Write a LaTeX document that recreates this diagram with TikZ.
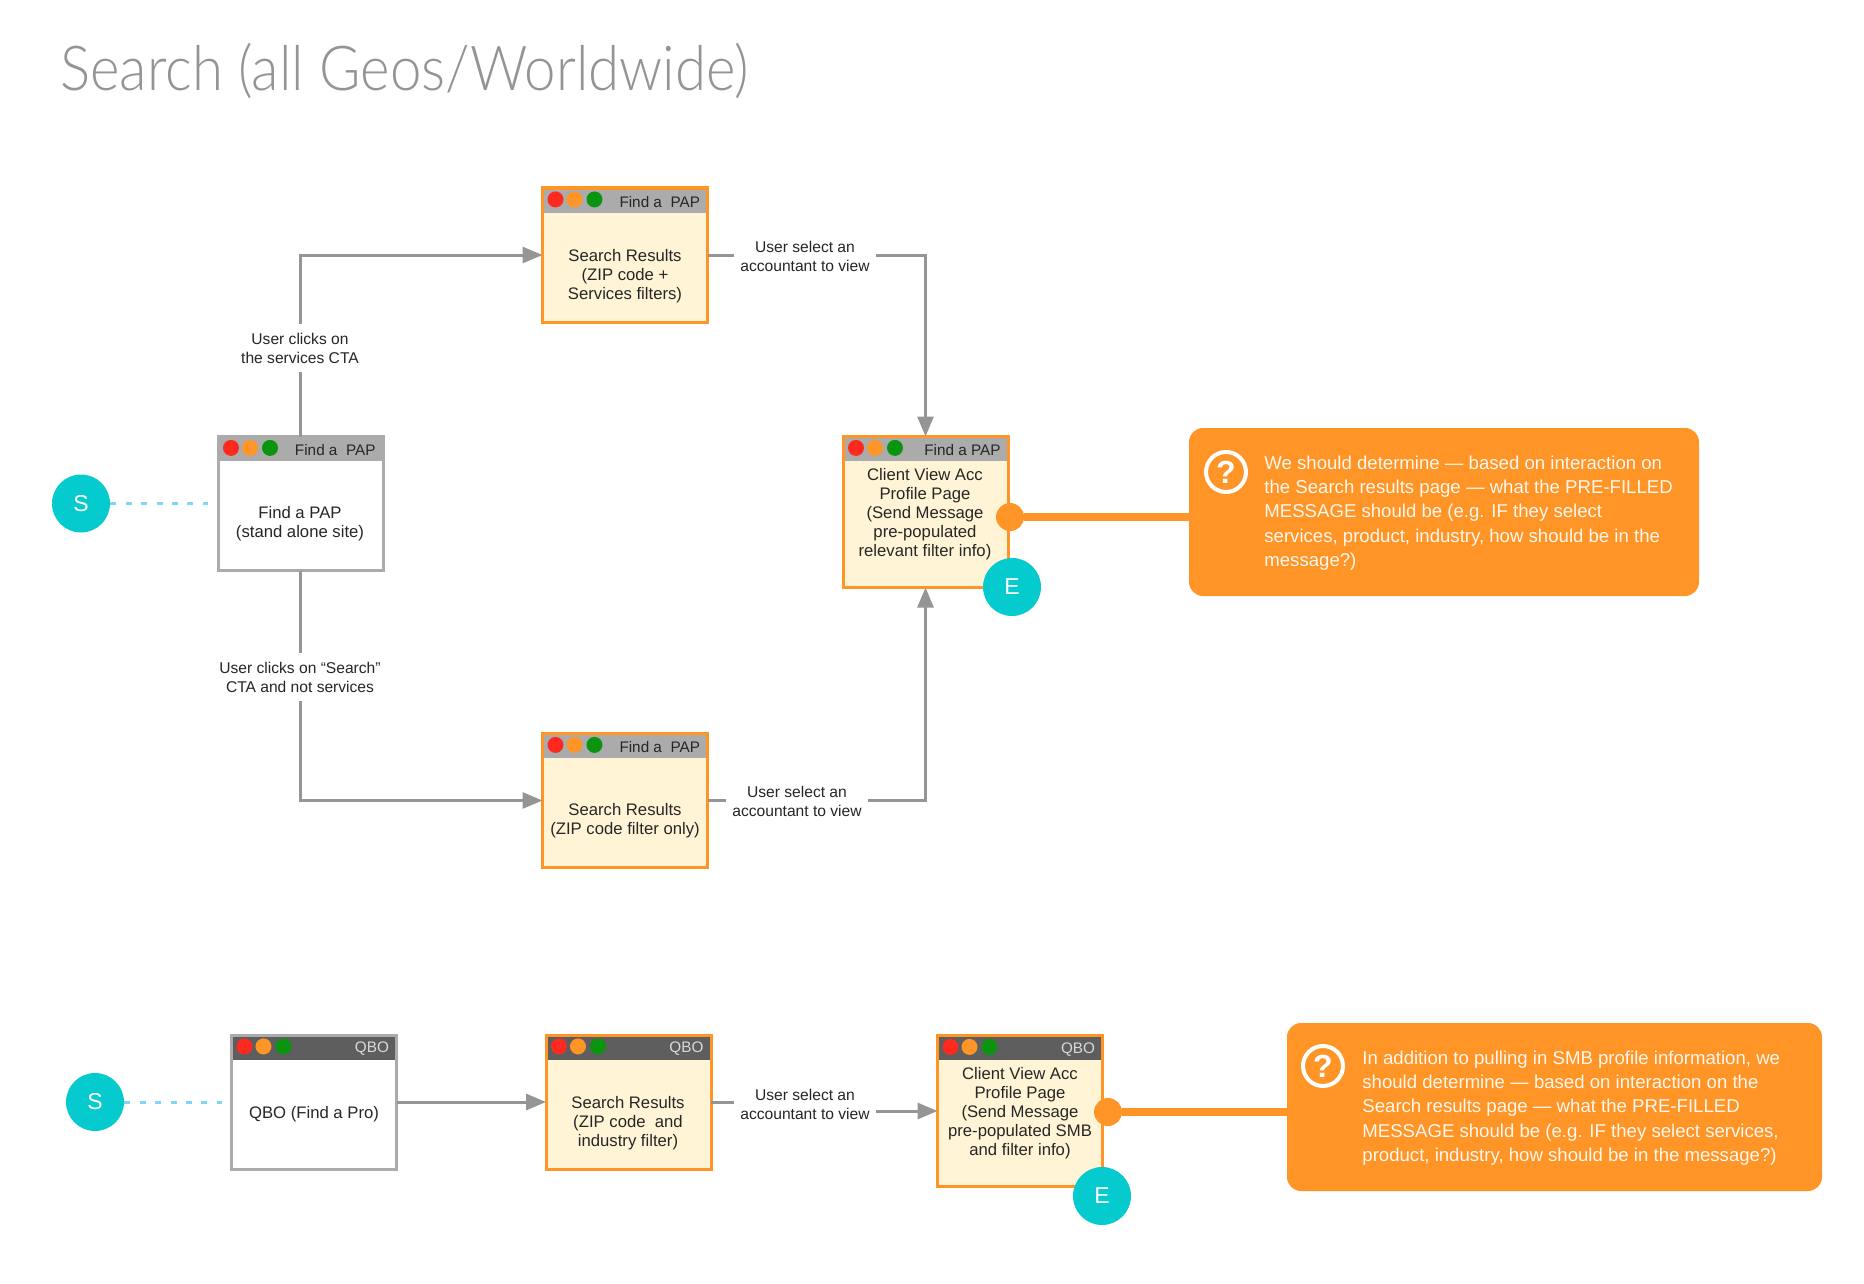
\documentclass[tikz,border=0pt]{standalone}
\usepackage{fontspec}
\setmainfont{Liberation Sans}
\newfontfamily\titlefont[FakeStretch=0.91]{Lato Light}
\usetikzlibrary{arrows.meta}

\definecolor{framegray}{HTML}{ABABAB}
\definecolor{flowgray}{HTML}{959595}
\definecolor{bardark}{HTML}{5E5E5E}
\definecolor{accent}{HTML}{FF9527}
\definecolor{paper}{HTML}{FFF5D6}
\definecolor{teal}{HTML}{05CBCF}
\definecolor{dotred}{HTML}{FF2A1F}
\definecolor{dotgreen}{HTML}{0A9410}
\definecolor{dotted}{HTML}{7FD6F7}

\tikzset{
  page/.style={draw=framegray, fill=white, line width=1.5pt, outer sep=0pt, inner sep=0pt,
    minimum width=82.5pt, minimum height=67pt},
  hotpage/.style={page, draw=accent, fill=paper},
  barlight/.style={fill=framegray, text=black!85},
  barnight/.style={fill=bardark, text=white!85!black},
  winbar/.style={inner sep=0pt, outer sep=0pt, minimum width=81pt, minimum height=11.5pt, anchor=north},
  windot/.style={circle, inner sep=0pt, minimum size=8pt},
  bartxt/.style={font=\fontsize{7.65}{9}\selectfont, anchor=east, inner sep=0pt},
  bodytxt/.style={font=\fontsize{8.35}{9.5}\selectfont, align=center, inner sep=0pt, text=black!85},
  steptxt/.style={font=\fontsize{7.8}{9.5}\selectfont, align=center, fill=white, inner xsep=3pt, inner ysep=4.5pt, text=black!85},
  flow/.style={draw=flowgray, line width=1.5pt, -{Triangle[length=10pt,width=8pt]}},
  terminal/.style={circle, fill=teal, text=white, inner sep=0pt, minimum size=29pt, font=\fontsize{11.5}{11.5}\selectfont},
  dots/.style={draw=dotted, line width=1.5pt, dash pattern=on 3pt off 4.7pt, shorten >=5pt},
  callout/.style={fill=accent, rounded corners=7pt, inner sep=0pt, minimum width=255pt, minimum height=84pt},
  calltxt/.style={font=\fontsize{9.3}{12.2}\selectfont, align=left, text=white!92!accent, inner sep=0pt, anchor=west},
  pin/.style={circle, fill=accent, inner sep=0pt, minimum size=14pt},
  tether/.style={draw=accent, line width=4.25pt},
  quest/.style={circle, draw=white, line width=2pt, text=white, inner sep=0pt, minimum size=20pt,
    font=\fontsize{16}{16}\selectfont\bfseries},
}

\newcommand{\windowbar}[3]{%
  \node[winbar,#2] (#1bar) at ([yshift=-.75pt]#1.north) {};
  \node[bartxt,#2,fill=none] (#1title) at ([xshift=-2.8pt,yshift=-.4pt]#1bar.east) {#3};
  \foreach \dotcol/\dotx in {dotred/6.5,accent/16,dotgreen/26}
    \node[windot,fill=\dotcol] (#1\dotcol) at ([xshift=\dotx pt,yshift=-5.7pt]#1.north west) {};
}

\begin{document}
\begin{tikzpicture}[x=.5pt, y=-.5pt]
  \useasboundingbox (0,0) rectangle (1864,1284);

  \node[anchor=base west, inner sep=0pt, text=black!42, font=\titlefont\fontsize{31}{31}\selectfont]
    (heading) at (60,91) {Search (all Geos/Worldwide)};

  % top flow
  \node[page] (find) at (300.5,503.5) {};
  \windowbar{find}{barlight}{Find a\ \ PAP}
  \node[bodytxt] (findtxt) at (300,524) {Find a PAP\\(stand alone site)};

  \node[hotpage] (resa) at (625,255) {};
  \windowbar{resa}{barlight}{Find a\ \ PAP}
  \node[bodytxt] (resatxt) at (625,276) {Search Results\\(ZIP code +\\Services filters)};

  \node[hotpage] (resb) at (625,800.5) {};
  \windowbar{resb}{barlight}{Find a\ \ PAP}
  \node[bodytxt] (resbtxt) at (625,821) {Search Results\\(ZIP code filter only)};

  \node[hotpage, minimum height=75.5pt] (client) at (925.5,512) {};
  \windowbar{client}{barlight}{Find a PAP}
  \node[bodytxt] (clienttxt) at (925,514) {Client View Acc\\Profile Page\\(Send Message\\pre-populated\\relevant filter info)};

  \draw[flow] (find.north) |- (resa.west);
  \draw[flow] (find.south) |- (resb.west);
  \draw[flow] (resa.east) -| (client.north);
  \draw[flow] (resb.east) -| (client.south);

  \node[steptxt] (stepa) at (300,348) {User clicks on\\the services CTA};
  \node[steptxt] (stepb) at (300,677) {User clicks on “Search”\\CTA and not services};
  \node[steptxt] (stepc) at (805,256) {User select an\\accountant to view};
  \node[steptxt] (stepd) at (797,801) {User select an\\accountant to view};

  \node[terminal] (starta) at (81,503.5) {S};
  \draw[dots] (starta) -- (find);
  \node[terminal] (enda) at (1012,587) {E};

  \node[callout] (calla) at (1444,512) {};
  \node[pin] (pina) at (1010,517) {};
  \draw[tether] (pina) -- (pina -| calla.west);
  \node[quest] (questa) at (1226,472) {?};
  \node[calltxt] (callatxt) at (1264,513) {We should determine — based on interaction on\\the Search results page — what the PRE-FILLED\\MESSAGE should be (e.g. IF they select\\services, product, industry, how should be in the\\message?)};

  % bottom flow
  \node[page] (qbo) at (314,1102) {};
  \windowbar{qbo}{barnight}{QBO}
  \node[bodytxt] (qbotxt) at (314,1114) {QBO (Find a Pro)};

  \node[hotpage] (resc) at (628.5,1102) {};
  \windowbar{resc}{barnight}{QBO}
  \node[bodytxt] (resctxt) at (628,1123) {Search Results\\(ZIP code\ \ and\\industry filter)};

  \node[hotpage, minimum height=75.5pt] (clientb) at (1020,1111) {};
  \windowbar{clientb}{barnight}{QBO}
  \node[bodytxt] (clientbtxt) at (1020,1113) {Client View Acc\\Profile Page\\(Send Message\\pre-populated SMB\\and filter info)};

  \coordinate (elbow) at (805,1104);
  \draw[flow] (qbo.east) -- (resc.west);
  \draw[flow] (resc.east) -| (elbow) |- (clientb.west);
  \node[steptxt] (stepe) at (elbow) {User select an\\accountant to view};

  \node[terminal] (startb) at (95,1102) {S};
  \draw[dots] (startb) -- (qbo);
  \node[terminal] (endb) at (1102,1196) {E};

  \node[callout, minimum width=267.5pt] (callb) at (1554.5,1107) {};
  \node[pin] (pinb) at (1108,1112) {};
  \draw[tether] (pinb) -- (pinb -| callb.west);
  \node[quest] (questb) at (1323,1066) {?};
  \node[calltxt] (callbtxt) at (1362,1108) {In addition to pulling in SMB profile information, we\\should determine — based on interaction on the\\Search results page — what the PRE-FILLED\\MESSAGE should be (e.g. IF they select services,\\product, industry, how should be in the message?)};
\end{tikzpicture}
\end{document}
